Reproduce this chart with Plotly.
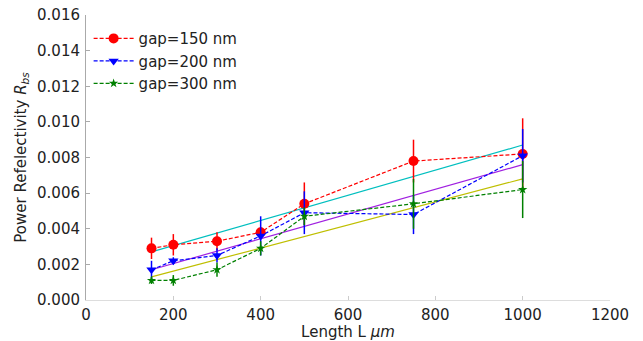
import plotly.graph_objects as go

lengths = [150, 200, 300, 400, 500, 750, 1000]
r150 = [0.0029, 0.0031, 0.0033, 0.0038, 0.0054, 0.0078, 0.0082]
e150 = [0.0006, 0.0006, 0.0005, 0.0003, 0.0012, 0.0012, 0.0020]
r200 = [0.0017, 0.0022, 0.0025, 0.0036, 0.0049, 0.0048, 0.0081]
e200 = [0.0005, 0.0002, 0.0004, 0.0011, 0.0012, 0.0011, 0.0015]
r300 = [0.0011, 0.0011, 0.0017, 0.0029, 0.0047, 0.0054, 0.0062]
e300 = [0.0002, 0.0003, 0.0004, 0.0004, 0.0005, 0.0014, 0.0016]

fit_x = [150, 1000]
fit150 = [0.0027, 0.0087]
fit200 = [0.0017, 0.0076]
fit300 = [0.0013, 0.0068]

fig = go.Figure()
for fy, col in [(fit150, "#00bfbf"), (fit200, "#a020e0"), (fit300, "#bfbf00")]:
    fig.add_trace(go.Scatter(x=fit_x, y=fy, mode="lines", line=dict(color=col, width=1.2),
                             showlegend=False, hoverinfo="skip"))

series = [
    ("gap=150 nm", r150, e150, "#ff0000", "circle", 10),
    ("gap=200 nm", r200, e200, "#0000ff", "triangle-down", 9),
    ("gap=300 nm", r300, e300, "#008000", "star", 7),
]
for name, y, e, col, sym, sz in series:
    fig.add_trace(go.Scatter(
        x=lengths, y=y, name=name, mode="lines+markers",
        line=dict(color=col, dash="4px,2px", width=1.2),
        marker=dict(color=col, symbol=sym, size=sz, line=dict(width=0)),
        error_y=dict(type="data", array=e, visible=True, color=col, thickness=1.5, width=0),
    ))

fig.update_layout(
    width=643, height=341,
    margin=dict(l=86, r=33, t=15, b=41),
    plot_bgcolor="white", paper_bgcolor="white",
    font=dict(family="DejaVu Sans", size=15, color="#222"),
    showlegend=True,
    legend=dict(x=0.005, y=0.975, xanchor="left", yanchor="top", bgcolor="rgba(255,255,255,0)",
                font=dict(size=15), tracegroupgap=0, itemwidth=40),
    xaxis=dict(range=[0, 1200], tickvals=[0, 200, 400, 600, 800, 1000, 1200], showgrid=False,
               zeroline=False, showline=True, linecolor="#dddddd", ticks="inside", ticklen=4,
               tickcolor="#cccccc", ticklabelstandoff=1, automargin=False,
               title=dict(text="Length L <i>μm</i>", standoff=5, font=dict(size=15))),
    yaxis=dict(range=[0, 0.016], tickvals=[0.0, 0.002, 0.004, 0.006, 0.008, 0.010, 0.012, 0.014, 0.016],
               tickformat=".3f", showgrid=False, zeroline=False, showline=True, linecolor="#aaaaaa",
               ticks="inside", ticklen=4, tickcolor="#aaaaaa", ticklabelstandoff=2, automargin=False,
               title=dict(text="Power Refelectivity <i>R<sub>bs</sub></i>", standoff=6, font=dict(size=15))),
)
fig.write_html("out.html")
